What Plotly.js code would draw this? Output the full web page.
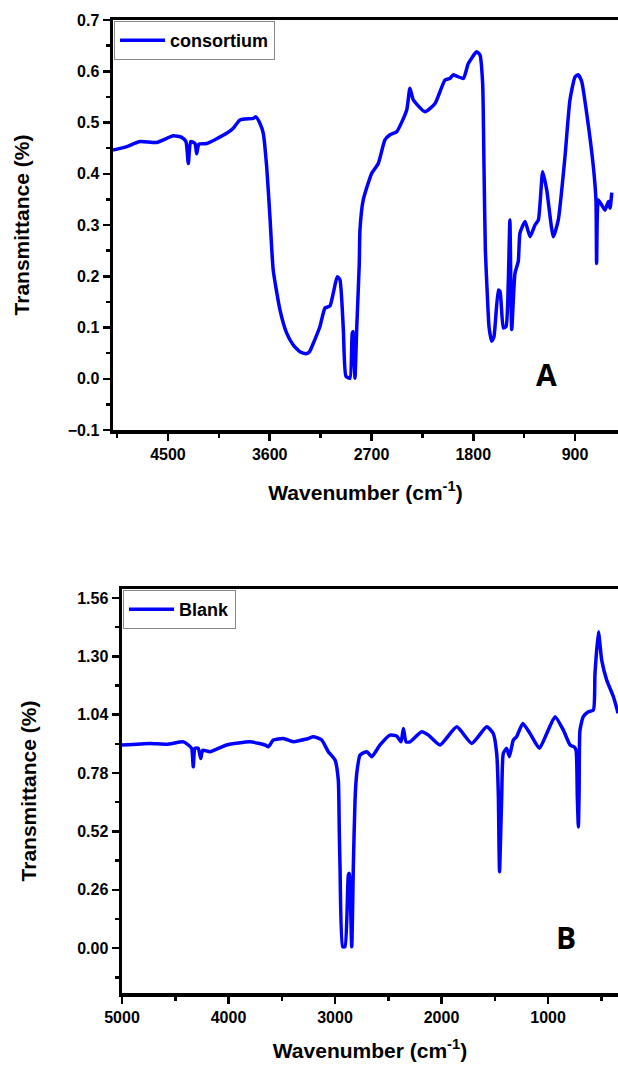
<!DOCTYPE html>
<html>
<head>
<meta charset="utf-8">
<script src="https://cdn.plot.ly/plotly-3.0.1.min.js"></script>
<style>
  html, body { margin: 0; padding: 0; background: #fff; overflow: hidden; }
  #chart { width: 618px; height: 1065px; }
</style>
</head>
<body>
<div id="chart"></div>
<script>
// ---- Panel A: consortium ----
const consortiumWavenumber = [4986, 4865, 4748, 4600, 4453, 4379, 4341, 4320, 4299, 4261, 4246, 4226, 4158, 3981, 3922, 3863, 3746, 3722, 3686, 3657, 3627, 3598, 3569, 3509, 3450, 3392, 3330, 3280, 3250, 3215, 3156, 3111, 3067, 3038, 3003, 2979, 2949, 2926, 2890, 2870, 2861, 2846, 2831, 2808, 2802, 2773, 2698, 2640, 2581, 2536, 2477, 2389, 2360, 2330, 2227, 2138, 2050, 2006, 1977, 1888, 1844, 1770, 1741, 1717, 1705, 1693, 1675, 1660, 1637, 1617, 1578, 1563, 1534, 1510, 1490, 1476, 1460, 1431, 1402, 1387, 1342, 1298, 1254, 1224, 1186, 1150, 1092, 1048, 989, 945, 900, 871, 841, 797, 738, 715, 709, 694, 664, 635, 605, 590, 575];
const consortiumTransmittance = [0.446, 0.453, 0.463, 0.461, 0.474, 0.471, 0.463, 0.420, 0.463, 0.459, 0.439, 0.458, 0.459, 0.479, 0.489, 0.505, 0.508, 0.511, 0.498, 0.479, 0.414, 0.316, 0.212, 0.134, 0.089, 0.066, 0.052, 0.049, 0.052, 0.069, 0.102, 0.138, 0.142, 0.167, 0.199, 0.193, 0.096, 0.005, 0.001, 0.089, 0.092, 0.001, 0.096, 0.225, 0.290, 0.349, 0.401, 0.420, 0.466, 0.476, 0.482, 0.524, 0.567, 0.544, 0.521, 0.537, 0.583, 0.586, 0.593, 0.586, 0.615, 0.638, 0.632, 0.576, 0.414, 0.251, 0.160, 0.100, 0.073, 0.082, 0.173, 0.170, 0.099, 0.102, 0.190, 0.310, 0.096, 0.206, 0.229, 0.284, 0.307, 0.277, 0.300, 0.310, 0.404, 0.368, 0.277, 0.310, 0.433, 0.544, 0.589, 0.593, 0.580, 0.518, 0.414, 0.349, 0.225, 0.349, 0.339, 0.329, 0.346, 0.333, 0.363];

// ---- Panel B: blank ----
const blankWavenumber = [5000, 4737, 4580, 4424, 4377, 4346, 4331, 4315, 4284, 4261, 4242, 4174, 4017, 3798, 3657, 3626, 3579, 3485, 3392, 3329, 3251, 3204, 3125, 3063, 3000, 2969, 2960, 2953, 2928, 2906, 2875, 2866, 2843, 2828, 2812, 2796, 2765, 2702, 2655, 2577, 2484, 2421, 2380, 2358, 2333, 2296, 2186, 2123, 2014, 1857, 1716, 1576, 1514, 1482, 1466, 1460, 1455, 1445, 1435, 1420, 1388, 1363, 1326, 1295, 1237, 1169, 1081, 1012, 934, 856, 793, 756, 737, 725, 715, 708, 700, 669, 621, 574, 559, 527, 496, 449, 386, 342];
const blankTransmittance = [0.905, 0.912, 0.908, 0.919, 0.905, 0.890, 0.808, 0.890, 0.890, 0.845, 0.882, 0.875, 0.905, 0.919, 0.905, 0.897, 0.927, 0.934, 0.919, 0.925, 0.934, 0.942, 0.927, 0.875, 0.838, 0.749, 0.526, 0.362, 0.006, 0.006, 0.325, 0.333, 0.006, 0.362, 0.660, 0.778, 0.860, 0.875, 0.853, 0.905, 0.949, 0.945, 0.919, 0.979, 0.919, 0.919, 0.964, 0.949, 0.905, 0.986, 0.912, 0.986, 0.956, 0.867, 0.674, 0.450, 0.340, 0.500, 0.674, 0.867, 0.890, 0.853, 0.927, 0.942, 1.001, 0.956, 0.890, 0.956, 1.031, 0.971, 0.905, 0.897, 0.882, 0.674, 0.540, 0.700, 0.971, 1.031, 1.053, 1.061, 1.224, 1.410, 1.283, 1.194, 1.120, 1.046];

// ---- Labels ----
const seriesNames = ['consortium', 'Blank'];
const panelLabels = ['A', 'B'];
const xTitle = 'Wavenumber (cm<sup>-1</sup>)';
const yTitle = 'Transmittance (%)';

const W = 618, H = 1065;
const px = v => v / W;
const py = v => 1 - v / H;

const blue = 'rgb(0,0,255)';
const fontFam = '"Liberation Sans", Arial, sans-serif';

const traces = [
  {
    x: consortiumWavenumber, y: consortiumTransmittance,
    type: 'scatter', mode: 'lines', name: seriesNames[0],
    line: { color: blue, width: 3.5, shape: 'spline', smoothing: 0.5 },
    xaxis: 'x', yaxis: 'y', legend: 'legend'
  },
  {
    x: blankWavenumber, y: blankTransmittance,
    type: 'scatter', mode: 'lines', name: seriesNames[1],
    line: { color: blue, width: 3.5, shape: 'spline', smoothing: 0.5 },
    xaxis: 'x2', yaxis: 'y2', legend: 'legend2'
  }
];

const tickFont = { family: fontFam, size: 16, color: '#000', weight: 'bold' };
const titleFont = { family: fontFam, size: 21, color: '#000', weight: 'bold' };
const legendFont = { family: fontFam, size: 18, color: '#000', weight: 'bold' };

function axisCommon() {
  return {
    showline: true, linewidth: 3.5, linecolor: '#000',
    ticks: 'outside', ticklen: 7, tickwidth: 2.5, tickcolor: '#000',
    showgrid: false, zeroline: false,
    tickfont: tickFont,
    fixedrange: true
  };
}

const layout = {
  width: W, height: H,
  margin: { l: 0, r: 0, t: 0, b: 0 },
  paper_bgcolor: '#fff', plot_bgcolor: '#fff',
  font: { family: fontFam, color: '#000' },
  hovermode: false,
  separators: '.,',
  xaxis: Object.assign(axisCommon(), {
    domain: [px(113), 1], range: [4986, 520], anchor: 'y',
    tickmode: 'linear', tick0: 0, dtick: 900, tickformat: 'd',
    mirror: true,
    minor: { tick0: 0, dtick: 450, ticks: 'outside', ticklen: 4, tickwidth: 2.5, tickcolor: '#000' },
    title: { text: xTitle, font: titleFont, standoff: 24 }
  }),
  yaxis: Object.assign(axisCommon(), {
    domain: [py(430), py(20)], range: [-0.1, 0.7], anchor: 'x',
    tickmode: 'linear', tick0: 0, dtick: 0.1, tickformat: '.1f',
    minor: { tick0: 0, dtick: 0.05, ticks: 'outside', ticklen: 4, tickwidth: 2.5, tickcolor: '#000' },
    title: { text: yTitle, font: titleFont, standoff: 33 }
  }),
  xaxis2: Object.assign(axisCommon(), {
    domain: [px(122), 1], range: [5000, 343], anchor: 'y2',
    tickmode: 'linear', tick0: 0, dtick: 1000, tickformat: 'd',
    mirror: true,
    minor: { tick0: 0, dtick: 500, ticks: 'outside', ticklen: 4, tickwidth: 2.5, tickcolor: '#000' },
    title: { text: xTitle, font: titleFont, standoff: 19 }
  }),
  yaxis2: Object.assign(axisCommon(), {
    domain: [py(993), py(589)], range: [-0.2, 1.6], anchor: 'x2',
    tickmode: 'linear', tick0: 0, dtick: 0.26, tickformat: '.2f',
    minor: { tick0: 0, dtick: 0.13, ticks: 'outside', ticklen: 4, tickwidth: 2.5, tickcolor: '#000' },
    title: { text: yTitle, font: titleFont, standoff: 36 }
  }),
  legend: {
    x: px(114), y: py(21), xanchor: 'left', yanchor: 'top',
    bgcolor: '#fff', bordercolor: '#888', borderwidth: 1,
    font: legendFont, itemwidth: 45, tracegroupgap: 0
  },
  legend2: {
    x: px(123), y: py(590), xanchor: 'left', yanchor: 'top',
    bgcolor: '#fff', bordercolor: '#888', borderwidth: 1,
    font: legendFont, itemwidth: 45, tracegroupgap: 0
  },
  showlegend: true,
  annotations: [
    { xref: 'paper', yref: 'paper', x: px(546), y: py(374), text: panelLabels[0], showarrow: false,
      xanchor: 'center', yanchor: 'middle', font: { family: '"Open Sans", Arial, sans-serif', size: 30, color: '#000', weight: 'bold' } },
    { xref: 'paper', yref: 'paper', x: px(566), y: py(937), text: panelLabels[1], showarrow: false,
      xanchor: 'center', yanchor: 'middle', font: { family: '"Open Sans", Arial, sans-serif', size: 30, color: '#000', weight: 'bold' } }
  ]
};

Plotly.newPlot('chart', traces, layout, { displayModeBar: false, staticPlot: true });
</script>
</body>
</html>
